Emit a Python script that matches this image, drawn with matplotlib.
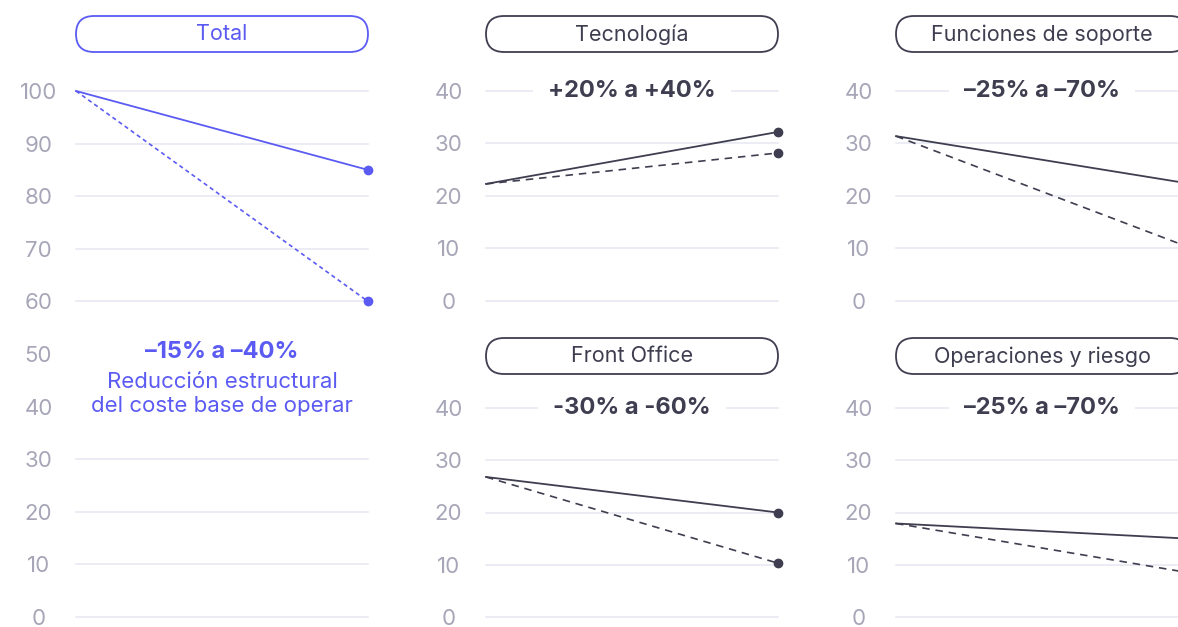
import matplotlib.pyplot as plt
from matplotlib.patches import FancyBboxPatch

plt.rcParams['font.family'] = ['Inter', 'DejaVu Sans']

# ---- datos ----
x_puntos = [0, 1]

total_min = [100, 85]
total_max = [100, 60]

tecnologia_min = [22.3, 32.2]
tecnologia_max = [22.3, 28.2]

soporte_min = [31.4, 22.4]
soporte_max = [31.4, 10.3]

front_min = [26.8, 20.0]
front_max = [26.8, 10.3]

operaciones_min = [17.9, 15.0]
operaciones_max = [17.9, 8.5]

titulos = ['Total', 'Tecnología', 'Funciones de soporte', 'Front Office', 'Operaciones y riesgo']
rangos = ['–15% a –40%', '+20% a +40%', '–25% a –70%', '-30% a -60%', '–25% a –70%']
nota_total = 'Reducción estructural\ndel coste base de operar'

ticks_total = [0, 10, 20, 30, 40, 50, 60, 70, 80, 90, 100]
ticks_area = [0, 10, 20, 30, 40]

# ---- estilo ----
MORADO = '#5b5bf3'
OSCURO = '#3e3e50'
GRIS = '#a6a6b8'
REJILLA = '#e9e9f2'

W, H = 1178, 627
fig = plt.figure(figsize=(W / 100, H / 100), dpi=100)


def caja(px_x0, px_y0, px_x1, px_y1):
    # convierte pixeles (origen arriba a la izquierda) en fracciones de figura
    return [px_x0 / W, 1 - px_y1 / H, (px_x1 - px_x0) / W, (px_y1 - px_y0) / H]


def pastilla(px_x0, px_y0, px_x1, px_y1, texto, color):
    r = (px_y1 - px_y0) / 2
    p = FancyBboxPatch((px_x0, H - px_y1), px_x1 - px_x0, px_y1 - px_y0,
                       boxstyle=f'round,pad=0,rounding_size={r}',
                       transform=None, facecolor='white', edgecolor=color, linewidth=1.3)
    fig.patches.append(p)
    fig.text((px_x0 + px_x1) / 2 / W, 1 - (px_y0 + px_y1 + 1) / 2 / H, texto,
             ha='center', va='center', fontsize=15.5, color=color)


def panel(rect, ymax, ticks, rejilla, serie_a, serie_b, color, dash):
    ax = fig.add_axes(rect)
    ax.set_xlim(0, 1)
    ax.set_ylim(0, ymax)
    for v in rejilla:
        ax.axhline(v, color=REJILLA, lw=1.2, zorder=0, clip_on=False)
    ax.plot(x_puntos, serie_a, color=color, lw=1.3, zorder=3, clip_on=False)
    ax.plot(x_puntos, serie_b, color=color, lw=1.2, dashes=dash, zorder=3, clip_on=False)
    ax.scatter([x_puntos[1]] * 2, [serie_a[1], serie_b[1]], s=36, color=color,
               zorder=4, clip_on=False)
    ax.set_xticks([])
    ax.set_yticks(ticks)
    ax.set_yticklabels([str(t) for t in ticks], ha='center')
    ax.tick_params(axis='y', length=0, pad=27, labelsize=16, labelcolor=GRIS)
    for s in ax.spines.values():
        s.set_visible(False)
    ax.patch.set_alpha(0)
    return ax


# Total
ax_t = panel(caja(76, 91, 368, 617), 100, ticks_total,
             [v for v in ticks_total if v not in (40, 50)],
             total_min, total_max, MORADO, (2.5, 2))
pastilla(76, 16, 368, 52, titulos[0], MORADO)
ax_t.text(0.5, 50.4, rangos[0], ha='center', va='center', fontsize=17,
          fontweight='bold', color=MORADO)
ax_t.text(0.5, 42.4, nota_total, ha='center', va='center', fontsize=16,
          color=MORADO, linespacing=1.28)

# Áreas
areas = [
    (486, 778, 91, 301, 16, 52, tecnologia_min, tecnologia_max, titulos[1], rangos[1]),
    (896, 1188, 91, 301, 16, 52, soporte_min, soporte_max, titulos[2], rangos[2]),
    (486, 778, 408, 617, 338, 374, front_min, front_max, titulos[3], rangos[3]),
    (896, 1188, 408, 617, 338, 374, operaciones_min, operaciones_max, titulos[4], rangos[4]),
]
for x0, x1, y0, y1, py0, py1, a, b, titulo, rango in areas:
    ax = panel(caja(x0, y0, x1, y1), 40, ticks_area, ticks_area, a, b, OSCURO, (4.5, 3.5))
    pastilla(x0, py0, x1, py1, titulo, OSCURO)
    ax.text(0.5, 40, rango, ha='center', va='center', fontsize=17, fontweight='bold',
            color=OSCURO, zorder=5,
            bbox=dict(facecolor='white', edgecolor='none', pad=11))

fig.savefig('out.png', dpi=100, facecolor='white')
